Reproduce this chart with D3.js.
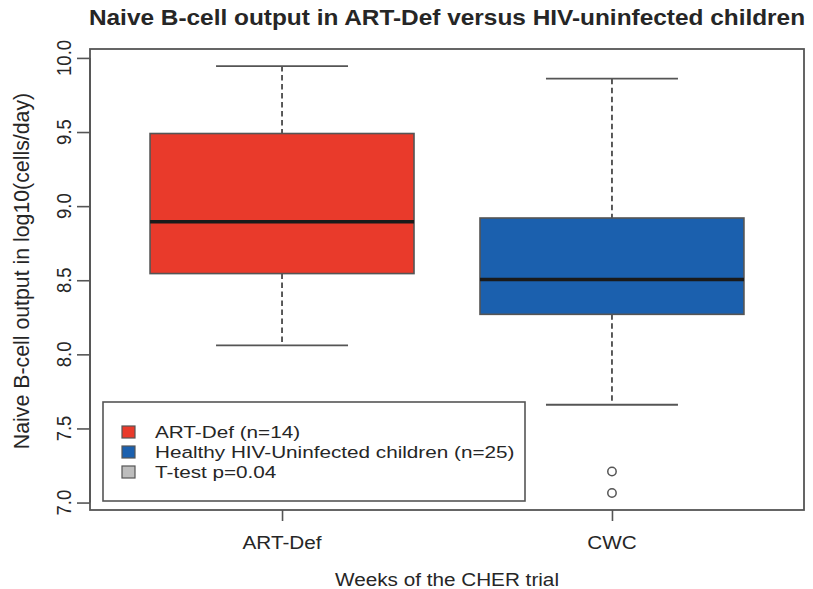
<!DOCTYPE html>
<html>
<head>
<meta charset="utf-8">
<script src="https://cdn.jsdelivr.net/npm/d3@7.9.0/dist/d3.min.js"></script>
<style>
  html, body { margin: 0; padding: 0; background: #fff; }
  svg { display: block; }
  text { font-family: "Liberation Sans", Arial, Helvetica, sans-serif; fill: #262626; }
</style>
</head>
<body>
<div id="chart"></div>
<script>
// box summaries
const groups        = ['ART-Def', 'CWC'];
const lowerWhisker  = [8.06, 7.66];
const q1            = [8.545, 8.27];
const median        = [8.895, 8.505];
const q3            = [9.49, 8.92];
const upperWhisker  = [9.945, 9.86];
const outliers      = [[], [7.21, 7.065]];
const boxColors     = ['#e93a2b', '#1b60ae'];

const yTicks = [7.0, 7.5, 8.0, 8.5, 9.0, 9.5, 10.0];

const legendLabels = ['ART-Def (n=14)', 'Healthy HIV-Uninfected children (n=25)', 'T-test p=0.04'];
const legendColors = ['#e93a2b', '#1b60ae', '#bdbdbd'];

const width = 813, height = 589;
const frame = { left: 90, right: 804, top: 49, bottom: 510 };
const sx = 1.12;   // the source picture is a bit wider than tall
const ink = '#555';

const svg = d3.select('#chart')
  .append('svg')
  .attr('width', width)
  .attr('height', height);

// text helper: horizontal stretch to match the picture
function label(x, y, str, opts = {}) {
  const rot = opts.rotate ? ` rotate(${opts.rotate})` : '';
  return svg.append('text')
    .attr('transform', `translate(${x},${y}) scale(${opts.sx || sx},1)${rot}`)
    .attr('text-anchor', opts.anchor || 'middle')
    .style('font-size', (opts.size || 18.5) + 'px')
    .style('font-weight', opts.bold ? 'bold' : 'normal')
    .text(str);
}

const xScale = d3.scalePoint()
  .domain(groups)
  .range([frame.left, frame.right])
  .padding(0.582);
const step = xScale.step();

const allVals = lowerWhisker.concat(upperWhisker, outliers.flat());
const [lo, hi] = d3.extent(allVals);
const ext = (hi - lo) * 0.04;
const yScale = d3.scaleLinear()
  .domain([lo - ext, hi + ext])
  .range([frame.bottom, frame.top]);

// boxes
const boxes = groups.map((g, i) => ({
  g, lw: lowerWhisker[i], q1: q1[i], med: median[i], q3: q3[i], uw: upperWhisker[i],
  out: outliers[i], color: boxColors[i]
}));

const bw = step * 0.8, cw = step * 0.4;
const gBox = svg.append('g');

const bg = gBox.selectAll('g.box').data(boxes).join('g').attr('class', 'box');

bg.append('line')
  .attr('x1', d => xScale(d.g)).attr('x2', d => xScale(d.g))
  .attr('y1', d => yScale(d.uw)).attr('y2', d => yScale(d.q3))
  .attr('stroke', '#333').attr('stroke-width', 1.6).attr('stroke-dasharray', '5.5,3.5');
bg.append('line')
  .attr('x1', d => xScale(d.g)).attr('x2', d => xScale(d.g))
  .attr('y1', d => yScale(d.q1)).attr('y2', d => yScale(d.lw))
  .attr('stroke', '#333').attr('stroke-width', 1.6).attr('stroke-dasharray', '5.5,3.5');

['uw', 'lw'].forEach(k => {
  bg.append('line')
    .attr('x1', d => xScale(d.g) - cw / 2).attr('x2', d => xScale(d.g) + cw / 2)
    .attr('y1', d => yScale(d[k])).attr('y2', d => yScale(d[k]))
    .attr('stroke', ink).attr('stroke-width', 1.8);
});

bg.append('rect')
  .attr('x', d => xScale(d.g) - bw / 2)
  .attr('width', bw)
  .attr('y', d => yScale(d.q3))
  .attr('height', d => yScale(d.q1) - yScale(d.q3))
  .attr('fill', d => d.color)
  .attr('stroke', ink).attr('stroke-width', 1.6);

bg.append('line')
  .attr('x1', d => xScale(d.g) - bw / 2).attr('x2', d => xScale(d.g) + bw / 2)
  .attr('y1', d => yScale(d.med)).attr('y2', d => yScale(d.med))
  .attr('stroke', '#1a1a1a').attr('stroke-width', 3.5);

bg.selectAll('circle')
  .data(d => d.out.map(v => ({ g: d.g, v })))
  .join('circle')
  .attr('cx', d => xScale(d.g))
  .attr('cy', d => yScale(d.v))
  .attr('r', 4.2)
  .attr('fill', 'none')
  .attr('stroke', ink).attr('stroke-width', 1.5);

// frame
svg.append('rect')
  .attr('x', frame.left).attr('y', frame.top)
  .attr('width', frame.right - frame.left).attr('height', frame.bottom - frame.top)
  .attr('fill', 'none').attr('stroke', ink).attr('stroke-width', 1.8);

// y axis
const yAxis = svg.append('g')
  .attr('transform', `translate(${frame.left},0)`)
  .call(d3.axisLeft(yScale).tickValues(yTicks).tickSize(13).tickFormat(''));
yAxis.select('.domain')
  .attr('d', `M0,${yScale(yTicks[0])}V${yScale(yTicks[yTicks.length - 1])}`)
  .attr('stroke', ink).attr('stroke-width', 1.6);
yAxis.selectAll('.tick line').attr('stroke', ink).attr('stroke-width', 1.6);
yTicks.forEach(t => label(71, yScale(t), d3.format('.1f')(t), { rotate: -90 }));

// x axis
const xAxis = svg.append('g')
  .attr('transform', `translate(0,${frame.bottom})`)
  .call(d3.axisBottom(xScale).tickSize(11).tickFormat(''));
xAxis.select('.domain').remove();
xAxis.selectAll('.tick line').attr('stroke', ink).attr('stroke-width', 1.6);
groups.forEach(g => label(xScale(g), 549, g));

// titles
label((frame.left + frame.right) / 2, 25, 'Naive B-cell output in ART-Def versus HIV-uninfected children', { bold: true, size: 21.8 });
label((frame.left + frame.right) / 2, 586, 'Weeks of the CHER trial');
label(29, 271, 'Naive B-cell output in log10(cells/day)', { rotate: -90, size: 21.3, sx: 1.0 });

// legend
const leg = { x: 103, y: 402, w: 422, h: 99 };
svg.append('rect')
  .attr('x', leg.x).attr('y', leg.y).attr('width', leg.w).attr('height', leg.h)
  .attr('fill', '#fff').attr('stroke', ink).attr('stroke-width', 1.6);

const rowY = d3.scalePoint().domain(legendLabels).range([432, 472]);
legendLabels.forEach((l, i) => {
  svg.append('rect')
    .attr('x', 122).attr('y', rowY(l) - 6)
    .attr('width', 13).attr('height', 12)
    .attr('fill', legendColors[i])
    .attr('stroke', ink).attr('stroke-width', 1.2);
  label(155, rowY(l) + 6.2, l, { anchor: 'start', size: 17.4, sx: 1.19 });
});
</script>
</body>
</html>
